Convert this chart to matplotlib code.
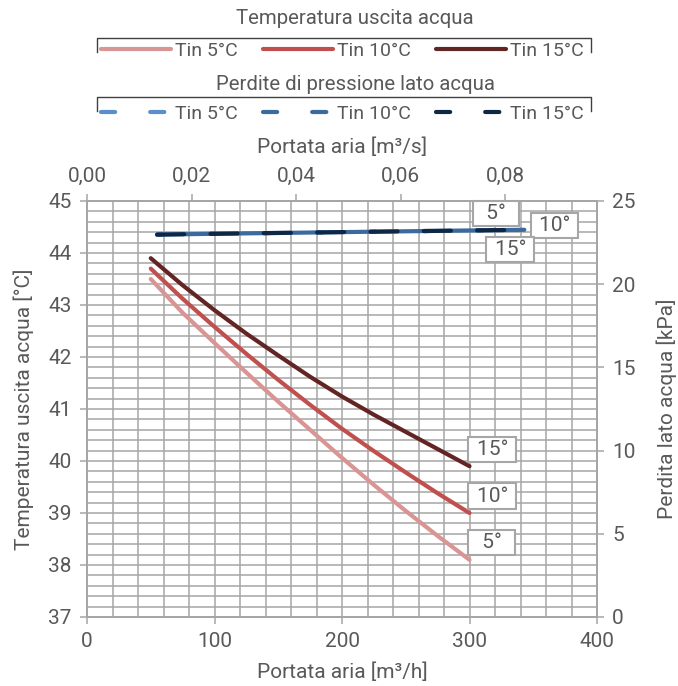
import matplotlib
matplotlib.use("Agg")
import matplotlib.pyplot as plt
from matplotlib.lines import Line2D
from matplotlib.ticker import FuncFormatter, MultipleLocator

# Portata aria [m3/h] e temperatura uscita acqua [°C]
portata_t = [50, 75, 100, 125, 150, 175, 200, 225, 250, 275, 300]
t_tin5 = [43.5, 42.85, 42.27, 41.7, 41.14, 40.6, 40.06, 39.54, 39.04, 38.56, 38.1]
t_tin10 = [43.7, 43.12, 42.58, 42.06, 41.56, 41.08, 40.62, 40.19, 39.78, 39.38, 39.0]
t_tin15 = [43.9, 43.38, 42.9, 42.45, 42.03, 41.62, 41.24, 40.89, 40.56, 40.23, 39.9]

# Perdite di pressione lato acqua [kPa]
portata_p = [55, 100, 150, 200, 250, 300, 343]
p_tin5 = [22.98, 23.03, 23.08, 23.13, 23.18, 23.23, 23.27]
p_tin10 = [22.98, 23.03, 23.08, 23.13, 23.18, 23.23, 23.27]
p_tin15 = [22.98, 23.03, 23.08, 23.13, 23.18, 23.23, 23.27]

labels_leg = ["Tin 5°C", "Tin 10°C", "Tin 15°C"]
labels_pt = ["5°", "10°", "15°"]

rosso = ["#D99594", "#C0504D", "#632523"]
blu = ["#5B8FCB", "#3A6A9E", "#0D2744"]
grigio = "#A6A6A6"
testo = "#595959"

plt.rcParams["font.family"] = ["Roboto", "DejaVu Sans"]
plt.rcParams["text.color"] = testo

fig = plt.figure(figsize=(6.78, 6.86), dpi=100)
ax = fig.add_axes([87 / 678, 1 - 617 / 686, 510 / 678, 416 / 686])
ax2 = ax.twinx()
ax3 = ax.twiny()

# assi
ax.set_xlim(0, 400)
ax.set_ylim(37, 45)
ax.xaxis.set_major_locator(MultipleLocator(100))
ax.xaxis.set_minor_locator(MultipleLocator(20))
ax.yaxis.set_major_locator(MultipleLocator(1))
ax.yaxis.set_minor_locator(MultipleLocator(0.2))
ax.grid(which="both", color=grigio, lw=1.1)
ax.set_axisbelow(True)

ax2.set_ylim(0, 25)
ax2.yaxis.set_major_locator(MultipleLocator(5))

ax3.set_xlim(0, 0.0975)
ax3.xaxis.set_major_locator(MultipleLocator(0.02))
ax3.xaxis.set_major_formatter(FuncFormatter(lambda v, p: f"{v:.2f}".replace(".", ",")))

for a in (ax, ax2, ax3):
    for s in a.spines.values():
        s.set_color(grigio)
        s.set_linewidth(1.1)
    a.tick_params(which="major", direction="out", length=5, width=1.1, color=grigio,
                  labelcolor=testo, labelsize=15, pad=6)
    a.tick_params(which="minor", length=0)

ax.set_xlabel("Portata aria [m³/h]", fontsize=15, color=testo, labelpad=8)
ax3.set_xlabel("Portata aria [m³/s]", fontsize=15, color=testo, labelpad=10)
ax.set_ylabel("Temperatura uscita acqua [°C]", fontsize=15, color=testo, labelpad=10)
ax2.set_ylabel("Perdita lato acqua [kPa]", fontsize=15, color=testo, labelpad=15)

# curve temperatura
for yv, c in zip([t_tin5, t_tin10, t_tin15], rosso):
    ax.plot(portata_t, yv, color=c, lw=3, solid_capstyle="round", solid_joinstyle="round",
            zorder=3)

# curve perdite di pressione
ax2.plot(portata_p, p_tin5, color=blu[0], lw=3, dashes=[6.5, 6.3], dash_capstyle="round")
ax2.plot(portata_p, p_tin10, color=blu[1], lw=3, linestyle=(6.0, (7.3, 5.5)),
         dash_capstyle="round")
ax2.plot(portata_p, p_tin15, color=blu[2], lw=3, dashes=[6.5, 6.3], dash_capstyle="round")

# etichette
box = dict(boxstyle="square,pad=0.15", fc="white", ec=grigio, lw=1.5)
for yv, lab in zip([t_tin5, t_tin10, t_tin15], labels_pt):
    txt = f" {lab} " if len(lab) > 2 else f"  {lab}  "
    ax.annotate(txt, (portata_t[-1], yv[-1]), xytext=(2, 17), textcoords="offset pixels",
                ha="left", va="center", fontsize=15, color=testo, bbox=box, zorder=5)

off_p = [(-28, 16), (30, 4), (-14, -20)]
for yv, lab, o in zip([p_tin5, p_tin10, p_tin15], labels_pt, off_p):
    txt = f" {lab} " if len(lab) > 2 else f"  {lab}  "
    ax2.annotate(txt, (portata_p[-1], yv[-1]), xytext=o, textcoords="offset pixels",
                 ha="center", va="center", fontsize=15, color=testo, bbox=box, zorder=5)

# legende
h_t = [Line2D([], [], color=c, lw=3, solid_capstyle="round") for c in rosso]
h_p = [Line2D([], [], color=c, lw=3, dashes=[3.4, 8.4], dash_capstyle="round") for c in blu]

for handles, titolo, y_tit, y_ent, y_br in [
        (h_t, "Temperatura uscita acqua", 18, 51, 38),
        (h_p, "Perdite di pressione lato acqua", 85, 114, 97)]:
    fig.text(355 / 678, 1 - y_tit / 686, titolo, ha="center", va="center", fontsize=14.7)
    fig.legend(handles, labels_leg, loc="center", bbox_to_anchor=(342 / 678, 1 - y_ent / 686),
               ncol=3, frameon=False, fontsize=14, handlelength=3.6, handletextpad=0.2,
               columnspacing=1.3, borderpad=0, labelcolor=testo)
    fig.add_artist(Line2D([97 / 678, 97 / 678, 591 / 678, 591 / 678],
                          [1 - (y_br + 14) / 686, 1 - y_br / 686, 1 - y_br / 686, 1 - (y_br + 14) / 686],
                          color="#404040", lw=1.0, transform=fig.transFigure))

fig.savefig("out.png", dpi=100)
